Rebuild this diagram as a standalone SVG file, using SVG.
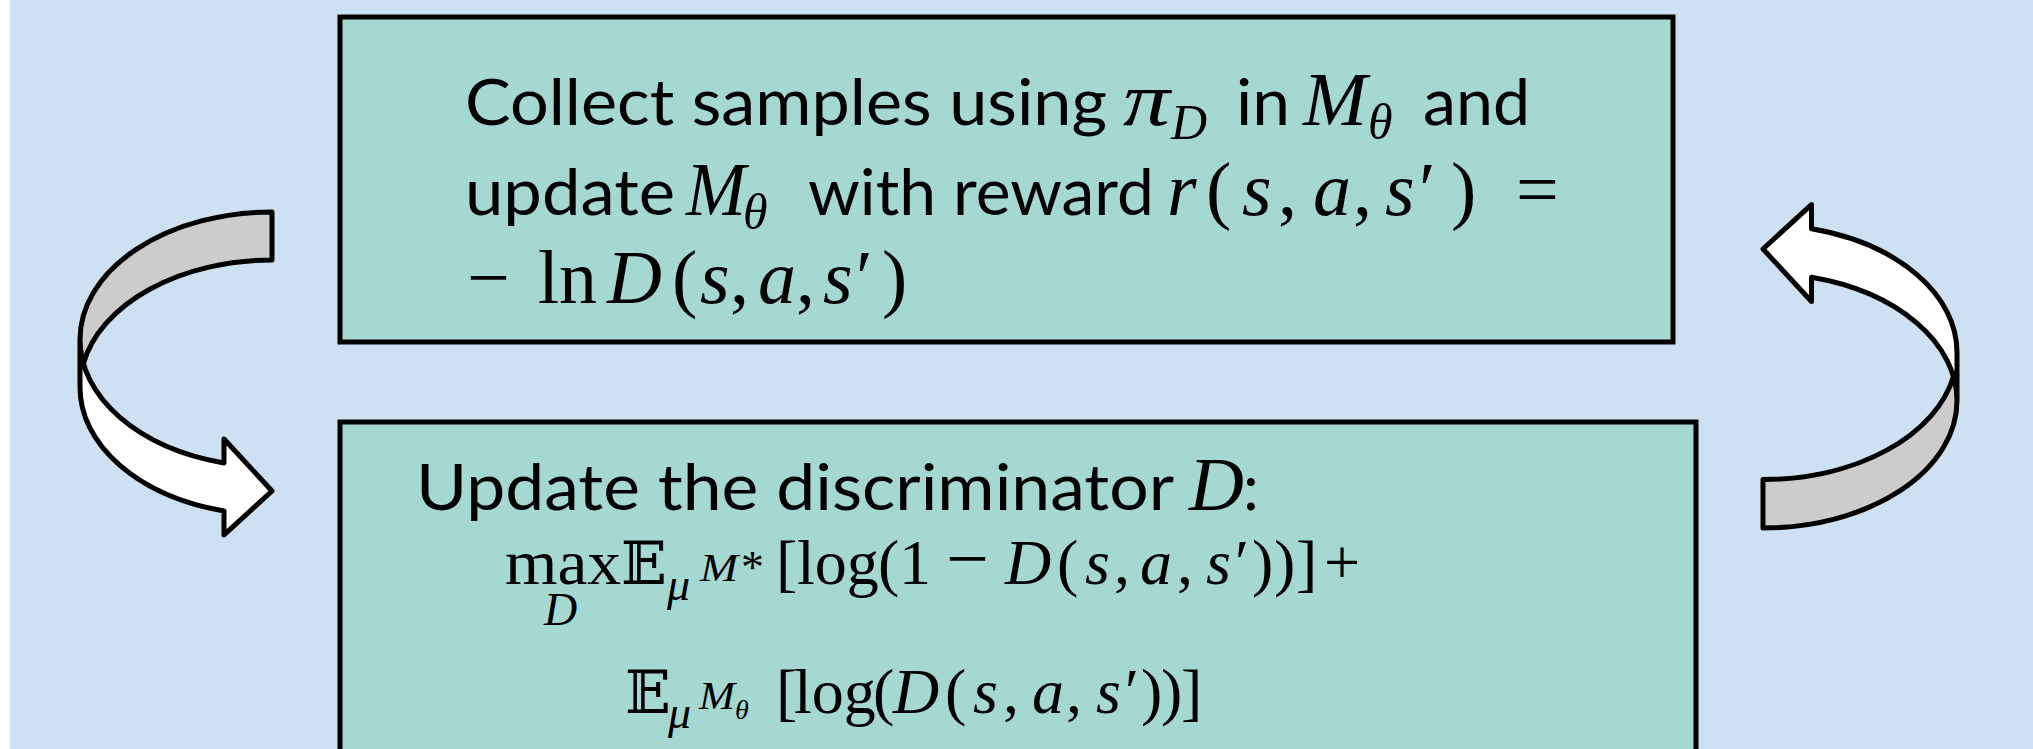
<svg xmlns="http://www.w3.org/2000/svg" width="2033" height="749" viewBox="0 0 2033 749">
<style>
.bg{fill:#CDE1F2}
.box{fill:#A4D8D1;stroke:#000;stroke-width:5}
.t{font-family:Lato,"Open Sans","Noto Sans",sans-serif;font-size:63px;fill:#000}
.mi{font-family:"Liberation Serif","Times New Roman",serif;font-style:italic;font-size:76px;fill:#000}
.mr{font-family:"Liberation Serif","Times New Roman",serif;font-size:76px;fill:#000}
.ms{font-family:"Liberation Serif","Times New Roman",serif;font-style:italic;font-size:50px;fill:#000}
.cm{font-family:"Liberation Serif","Times New Roman",serif;font-size:64px;fill:#000}
.ci{font-family:"Liberation Serif","Times New Roman",serif;font-style:italic;font-size:64px;fill:#000}
.cs{font-family:"Liberation Serif","Times New Roman",serif;font-style:italic;font-size:46px;fill:#000}
.css{font-family:"Liberation Serif","Times New Roman",serif;font-style:italic;font-size:40px;fill:#000}
.bb{font-family:"DejaVu Serif","DejaVu Sans","Noto Sans",serif;font-size:60px;fill:#000}
.back{fill:#CCCCCC;stroke:none}
.front{fill:#FFFFFF;stroke:none}
.outline{fill:none;stroke:#000;stroke-width:5;stroke-linejoin:round}
</style>
<rect x="0" y="0" width="2033" height="749" fill="#FFFFFF"/>
<rect class="bg" x="10" y="0" width="2023" height="749"/>

<g id="node-collect">
<rect class="box" x="340" y="17" width="1333" height="325"/>
<text class="t" x="465" y="125" textLength="642" lengthAdjust="spacingAndGlyphs">Collect samples using</text>
<text class="mi" x="1123" y="125" textLength="47" lengthAdjust="spacingAndGlyphs">π</text>
<text class="ms" x="1171" y="139">D</text>
<text class="t" x="1236" y="125" textLength="54" lengthAdjust="spacingAndGlyphs">in</text>
<text class="mi" x="1303" y="125" textLength="64" lengthAdjust="spacingAndGlyphs">M</text>
<text class="ms" x="1368" y="139">θ</text>
<text class="t" x="1423" y="125" textLength="107" lengthAdjust="spacingAndGlyphs">and</text>

<text class="t" x="465" y="215" textLength="210" lengthAdjust="spacingAndGlyphs">update</text>
<text class="mi" x="686" y="215" textLength="60" lengthAdjust="spacingAndGlyphs">M</text>
<text class="ms" x="743" y="229">θ</text>
<text class="t" x="808" y="215" textLength="346" lengthAdjust="spacingAndGlyphs">with reward</text>
<text class="mr" y="215"><tspan class="mi" x="1167">r</tspan><tspan x="1206">(</tspan><tspan class="mi" x="1242">s</tspan><tspan x="1278">,</tspan><tspan class="mi" x="1313">a</tspan><tspan x="1353">,</tspan><tspan class="mi" x="1385">s</tspan><tspan x="1419">′</tspan><tspan x="1451">)</tspan><tspan x="1516">=</tspan></text>

<text class="mr" y="303"><tspan x="467">−</tspan><tspan x="538">ln</tspan><tspan class="mi" x="607">D</tspan><tspan x="672">(</tspan><tspan class="mi" x="700">s</tspan><tspan x="730">,</tspan><tspan class="mi" x="758">a</tspan><tspan x="796">,</tspan><tspan class="mi" x="823">s</tspan><tspan x="856">′</tspan><tspan x="882">)</tspan></text>
</g>

<g id="node-update">
<rect class="box" x="340" y="422" width="1356" height="345"/>
<text class="t" x="416" y="510" textLength="758" lengthAdjust="spacingAndGlyphs">Update the discriminator</text>
<text class="mi" x="1189" y="510">D</text>
<text class="t" x="1243" y="510">:</text>

<text class="cm" x="505" y="584" textLength="116" lengthAdjust="spacingAndGlyphs">max</text>
<text class="cs" x="544" y="625">D</text>
<text class="bb" x="621" y="584">𝔼</text>
<text class="cs" x="667" y="600">μ</text>
<text class="css" x="700" y="581" textLength="38" lengthAdjust="spacingAndGlyphs">M</text>
<text class="cm" x="741" y="583" style="font-size:46px">*</text>
<text class="cm" y="584"><tspan x="776">[</tspan><tspan x="797">log</tspan><tspan x="878">(</tspan><tspan x="899">1</tspan><tspan x="946" style="font-size:76px">−</tspan><tspan class="ci" x="1005">D</tspan><tspan x="1057">(</tspan><tspan class="ci" x="1085">s</tspan><tspan x="1114">,</tspan><tspan class="ci" x="1140">a</tspan><tspan x="1177">,</tspan><tspan class="ci" x="1206">s</tspan><tspan x="1235">′</tspan><tspan x="1252">)</tspan><tspan x="1274">)</tspan><tspan x="1296">]</tspan><tspan x="1324">+</tspan></text>

<text class="bb" x="625" y="713">𝔼</text>
<text class="cs" x="668" y="728">μ</text>
<text class="css" x="699" y="709" textLength="36" lengthAdjust="spacingAndGlyphs">M</text>
<text class="ci" x="735" y="719" style="font-size:28px">θ</text>
<text class="cm" y="713"><tspan x="776">[</tspan><tspan x="794">log</tspan><tspan x="873">(</tspan><tspan class="ci" x="893">D</tspan><tspan x="945">(</tspan><tspan class="ci" x="973">s</tspan><tspan x="1003">,</tspan><tspan class="ci" x="1032">a</tspan><tspan x="1066">,</tspan><tspan class="ci" x="1096">s</tspan><tspan x="1125">′</tspan><tspan x="1141">)</tspan><tspan x="1161">)</tspan><tspan x="1181">]</tspan></text>
</g>

<g id="connectors">
<g id="arrow-left" transform="translate(80 212)">
<path class="front" d="M0,127.5 A192,127.5 0 0 0 144,250.95 L144,226.95 L192,279 L144,322.95 L144,298.95 A192,127.5 0 0 1 0,175.5 Z"/>
<path class="back" d="M192,0 L192,48 A192,127.5 0 0 0 3.43,151.5 A192,127.5 0 0 1 192,0 Z"/>
<path class="outline" d="M0,127.5 A192,127.5 0 0 0 144,250.95 L144,226.95 L192,279 L144,322.95 L144,298.95 A192,127.5 0 0 1 0,175.5 L0,127.5 A192,127.5 0 0 1 192,0 L192,48 A192,127.5 0 0 0 3.43,151.5"/>
</g>
<g id="arrow-right" transform="matrix(-1 0 0 -1 1957 528)">
<path class="front" d="M0,127.375 A194,127.375 0 0 0 145.5,250.705 L145.5,226.455 L194,279 L145.5,323.455 L145.5,299.205 A194,127.375 0 0 1 0,175.875 Z"/>
<path class="back" d="M194,0 L194,48.5 A194,127.375 0 0 0 3.55,151.625 A194,127.375 0 0 1 194,0 Z"/>
<path class="outline" d="M0,127.375 A194,127.375 0 0 0 145.5,250.705 L145.5,226.455 L194,279 L145.5,323.455 L145.5,299.205 A194,127.375 0 0 1 0,175.875 L0,127.375 A194,127.375 0 0 1 194,0 L194,48.5 A194,127.375 0 0 0 3.55,151.625"/>
</g>
</g>
</svg>
